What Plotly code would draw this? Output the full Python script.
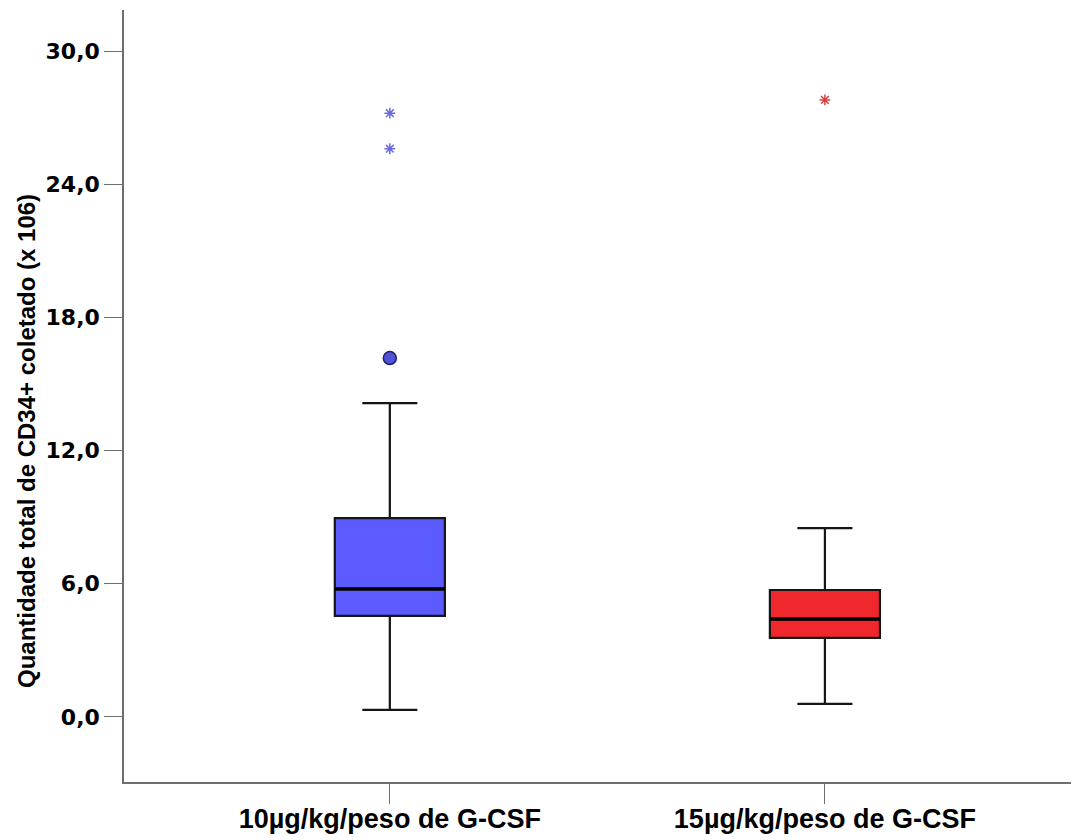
import plotly.graph_objects as go

categories = ["10µg/kg/peso de G-CSF", "15µg/kg/peso de G-CSF"]
q1 = [4.55, 3.56]
median = [5.77, 4.41]
q3 = [8.96, 5.72]
lower_whisker = [0.32, 0.59]
upper_whisker = [14.14, 8.51]
fill_colors = ["#5B5BFF", "#F0282D"]

# outliers: (category index, value)
circle_outliers_x = [0]
circle_outliers_y = [16.17]
star_outliers_blue_x = [0, 0]
star_outliers_blue_y = [27.2, 25.6]
star_outliers_red_x = [1]
star_outliers_red_y = [27.8]

y_ticks = [0, 6, 12, 18, 24, 30]
y_ticktext = ["0,0", "6,0", "12,0", "18,0", "24,0", "30,0"]
y_title = "Quantidade total de CD34+ coletado (x 106)"

box_w = 0.253

fig = go.Figure()
for i, cat in enumerate(categories):
    fig.add_trace(go.Box(
        x=[i], q1=[q1[i]], median=[median[i]], q3=[q3[i]],
        lowerfence=[lower_whisker[i]], upperfence=[upper_whisker[i]],
        width=box_w, whiskerwidth=0.5,
        fillcolor=fill_colors[i], line=dict(color="#151515", width=2.2),
        boxpoints=False, showlegend=False, hoverinfo="skip",
    ))
    fig.add_trace(go.Scatter(
        x=[i - box_w / 2, i + box_w / 2], y=[median[i], median[i]],
        mode="lines", line=dict(color="black", width=3.5),
        showlegend=False, hoverinfo="skip",
    ))

fig.add_trace(go.Scatter(
    x=circle_outliers_x, y=circle_outliers_y, mode="markers",
    marker=dict(symbol="circle", size=13, color="#5252D6",
                line=dict(color="#1E1E6E", width=1.5)),
    showlegend=False,
))
fig.add_trace(go.Scatter(
    x=star_outliers_blue_x, y=star_outliers_blue_y, mode="markers",
    marker=dict(symbol="asterisk-open", size=9, color="#6A6AE0",
                line=dict(color="#6A6AE0", width=1.5)),
    showlegend=False,
))
fig.add_trace(go.Scatter(
    x=star_outliers_red_x, y=star_outliers_red_y, mode="markers",
    marker=dict(symbol="asterisk-open", size=9, color="#D84040",
                line=dict(color="#D84040", width=1.5)),
    showlegend=False,
))

fig.add_annotation(
    text=y_title, textangle=-90, xref="paper", yref="paper",
    x=0, y=0.4417, xanchor="center", yanchor="middle", xshift=-98,
    showarrow=False,
    font=dict(family="Liberation Sans", size=24, color="black", weight="bold"),
)

fig.update_layout(
    width=1079, height=840,
    margin=dict(l=116, r=8, t=2, b=66),
    plot_bgcolor="white", paper_bgcolor="white",
    xaxis=dict(
        range=[-0.611, 1.584], tickvals=[0, 1], ticktext=categories,
        showgrid=False, zeroline=False, showline=True, linecolor="#6E6E6E",
        linewidth=1.5, ticks="outside", ticklen=20, tickcolor="#6E6E6E",
        ticklabelstandoff=-8,
        tickfont=dict(family="Liberation Sans", size=27, color="black", weight="bold"),
    ),
    yaxis=dict(
        range=[-2.93, 31.85], tickvals=y_ticks, ticktext=y_ticktext,
        showgrid=False, zeroline=False, showline=True, linecolor="#6E6E6E",
        linewidth=1.5, ticks="outside", ticklen=18, tickcolor="#6E6E6E",
        tickfont=dict(family="DejaVu Sans", size=22, color="black", weight="bold"),
    ),
)

fig.write_html("out.html")
